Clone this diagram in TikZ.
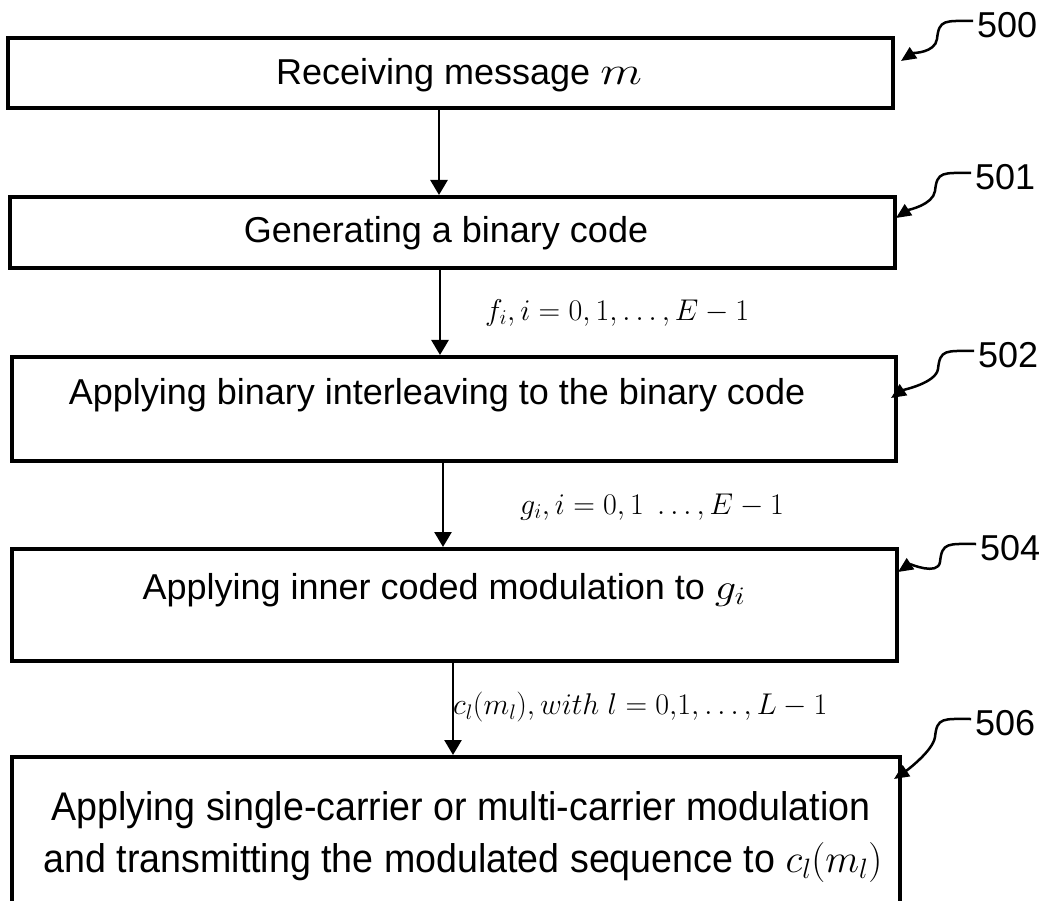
\RequirePackage{fix-cm}
\documentclass[tikz,border=0pt]{standalone}
\usepackage{fontspec}
\setmainfont{Liberation Sans}
\usetikzlibrary{arrows.meta}
\tikzset{
  x=1pt, y=-1pt,
  box/.style={draw, line width=4pt, inner sep=0pt},
  txt/.style={font=\fontsize{36}{44}\selectfont, inner sep=0pt, align=center},
  lab/.style={font=\fontsize{36}{44}\selectfont, inner sep=0pt},
  mlab/.style={font=\fontsize{30}{34}\selectfont, inner sep=0pt, anchor=west},
  arr/.style={line width=2.7pt, -{Triangle[length=15pt,width=17pt]}},
  curl/.style={line width=2.5pt, -{Triangle[length=15pt,width=13pt]}}
}
\newcommand{\curlto}[2]{% label node, tip coordinate
  \draw[curl] (#1.west) ++(-4,-4) coordinate (#1s)
    .. controls +(-28,0) and +(2,-20) .. ++(-36,18)
    .. controls +(-2,14) and +(12,-8) .. (#2);
}
\newcommand{\wm}[1]{\scalebox{1.18}[1]{#1}}
\begin{document}
\begin{tikzpicture}
\clip (0,0) rectangle (1047,901);
\fill[white] (0,0) rectangle (1047,901);
% boxes
\node[box, minimum width=885pt, minimum height=70pt] (b500) at (450.5,73) {};
\node[box, minimum width=885pt, minimum height=71pt] (b501) at (452.5,232.5) {};
\node[box, minimum width=884pt, minimum height=104pt] (b502) at (454,409) {};
\node[box, minimum width=885pt, minimum height=112pt] (b504) at (454.5,605) {};
\node[box, minimum width=888pt, minimum height=203pt] (b506) at (456,858.5) {};
% texts
\node[txt] (t500) at (459,75) {Receiving message \scalebox{1.35}[1.1]{$m$}};
\node[txt] (t501) at (446,233) {Generating a binary code};
\node[txt] (t502) at (437,395) {Applying binary interleaving to the binary code};
\node[txt] (t504) at (444,590) {Applying inner coded modulation to \wm{$g_i$}};
\node[txt, font=\fontsize{40}{48}\selectfont] (t506a) at (461,810) {\scalebox{0.94}[1]{Applying single-carrier or multi-carrier modulation}};
\node[txt, font=\fontsize{40}{48}\selectfont] (t506b) at (463,862) {\scalebox{0.94}[1]{and transmitting the modulated sequence to \scalebox{1.05}[1]{$c_l(m_l)$}}};
% arrows
\draw[arr] (b500.south -| 439,0) -- (b501.north -| 439,0);
\draw[arr] (b501.south -| 440,0) -- (b502.north -| 440,0);
\draw[arr] (b502.south -| 443,0) -- (b504.north -| 443,0);
\draw[arr] (b504.south -| 453,0) -- (b506.north -| 453,0);
% math labels
\node[mlab] (mf) at (485,313) {$f_i, i=0,1,\ldots,E-1$};
\node[mlab] (mg) at (520,507) {$g_i, i=0,1\ \ldots,E-1$};
\node[mlab] (mc) at (453,707) {$c_l(m_l), with\ l=0{,}1,\ldots,L-1$};
% reference labels
\node[lab, anchor=west] (l500) at (977,25) {500};
\node[lab, anchor=west] (l501) at (975,177) {501};
\node[lab, anchor=west] (l502) at (978,355) {502};
\node[lab, anchor=west] (l504) at (980,548) {504};
\node[lab, anchor=west] (l506) at (975,723) {506};
\coordinate (p500) at (901,61);
\coordinate (p501) at (896,218);
\coordinate (p502) at (891,398);
\coordinate (p504) at (898,572);
\coordinate (p506) at (894,779);
\curlto{l500}{p500}
\curlto{l501}{p501}
\curlto{l502}{p502}
\curlto{l504}{p504}
\curlto{l506}{p506}
\end{tikzpicture}
\end{document}
